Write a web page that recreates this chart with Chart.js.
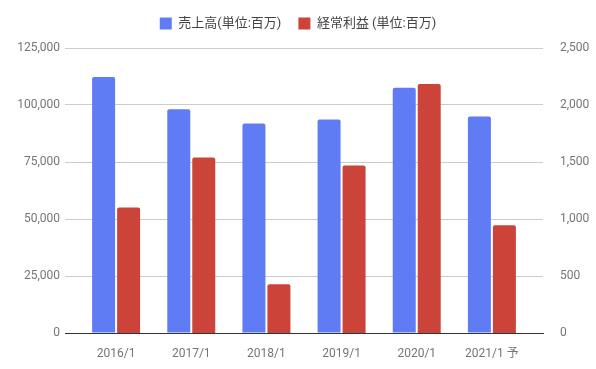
<!DOCTYPE html>
<html>
<head>
<meta charset="utf-8">
<script src="https://cdn.jsdelivr.net/npm/chart.js@4"></script>
<style>
	html, body { margin: 0; padding: 0; background: #fff; }
	#wrap { width: 596px; height: 369px; }
</style>
</head>
<body>
<div id="wrap"><canvas id="chart"></canvas></div>
<script>
// Data
// ================================================================================
let labels = ['2016/1', '2017/1', '2018/1', '2019/1', '2020/1', '2021/1 予'];
let sales = [112300, 98100, 91900, 93600, 107600, 95000];   // 売上高 (left axis)
let profit = [1100, 1540, 427, 1470, 2185, 946];           // 経常利益 (right axis)

let sales_label = '売上高(単位:百万)';
let profit_label = '経常利益 (単位:百万)';

let to_points = (values) => values.map((v, i) => ({x: i, y: v}));

Chart.defaults.font.family = "Roboto, 'Noto Sans CJK JP', sans-serif";
Chart.defaults.font.size = 12;
Chart.defaults.color = '#757575';

// a bit more room under the legend
let legend_gap = {
	id: 'legend_gap',
	beforeInit(chart) {
		let fit = chart.legend.fit;
		chart.legend.fit = function() {
			fit.call(this);
			this.height += 8;
		};
	}
};

new Chart(document.getElementById('chart'), {
	type: 'bar',
	data: {
		datasets: [
			{
				label: sales_label,
				data: to_points(sales),
				yAxisID: 'y',
				backgroundColor: '#607cf4',
				borderRadius: 2,
				categoryPercentage: 0.665,
				barPercentage: 0.92
			},
			{
				label: profit_label,
				data: to_points(profit),
				yAxisID: 'y1',
				backgroundColor: '#cc4339',
				borderRadius: 2,
				categoryPercentage: 0.665,
				barPercentage: 0.92
			}
		]
	},
	plugins: [legend_gap],
	options: {
		responsive: true,
		maintainAspectRatio: false,
		animation: false,
		locale: 'en-US',
		plugins: {
			legend: {
				position: 'top',
				labels: {
					boxWidth: 12,
					boxHeight: 12,
					padding: 17,
					color: '#444',
					font: {size: 13}
				}
			},
			tooltip: {enabled: false}
		},
		scales: {
			x: {
				type: 'linear',
				offset: false,
				min: -0.68,
				max: 5.68,
				grid: {display: false},
				border: {display: true, color: '#333', width: 1},
				ticks: {
					stepSize: 1,
					includeBounds: false,
					autoSkip: false,
					maxRotation: 0,
					padding: 6,
					callback: (v) => Number.isInteger(v) ? labels[v] : ''
				},
				afterFit: (s) => { s.height = 36; }
			},
			y: {
				position: 'left',
				min: 0,
				max: 125000,
				grid: {color: '#cccccc', drawTicks: false},
				border: {display: false},
				ticks: {stepSize: 25000, padding: 5},
				afterFit: (s) => { s.width = 65; }
			},
			y1: {
				position: 'right',
				min: 0,
				max: 2500,
				grid: {display: false},
				border: {display: false},
				ticks: {stepSize: 500, padding: 9},
				afterFit: (s) => { s.width = 53; }
			}
		}
	}
});
</script>
</body>
</html>
